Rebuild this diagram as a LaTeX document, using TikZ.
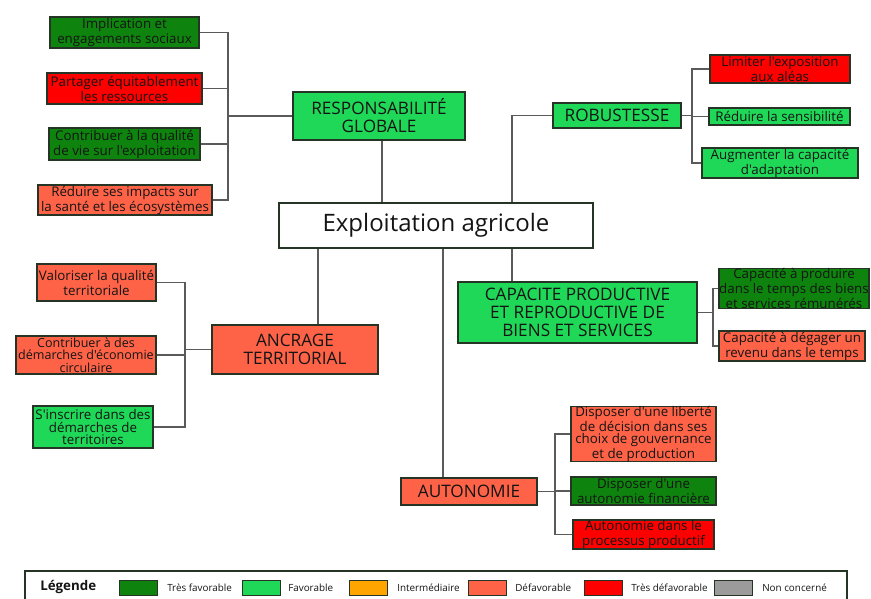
\documentclass[tikz,border=0pt]{standalone}
\usepackage{fontspec}
\setmainfont{Open Sans}[Ligatures=TeXOff]
\usepackage{tikz}
\usetikzlibrary{positioning}
\definecolor{tresfav}{RGB}{14,132,14}
\definecolor{fav}{RGB}{32,216,88}
\definecolor{interm}{RGB}{255,165,0}
\definecolor{defav}{RGB}{255,99,71}
\definecolor{tresdefav}{RGB}{255,0,0}
\definecolor{nonconc}{RGB}{155,155,155}
\definecolor{bordure}{RGB}{38,52,38}
\definecolor{trait}{RGB}{90,90,90}
\definecolor{texte}{RGB}{20,20,20}
\tikzset{dim/.style 2 args={minimum width=#1, minimum height=#2},
	lien/.style={draw=trait, line width=0.8pt}}

\begin{document}
\begin{tikzpicture}[x=0.75pt, y=-0.75pt,
    box/.style={draw=bordure, fill=#1, align=center, inner sep=0pt, text=texte, line width=0.8pt, font=\fontsize{10}{11.25}\selectfont},
    cat/.style={box=#1, line width=1.5pt, font=\fontsize{12.9}{13.5}\selectfont},
    swatch/.style={draw=bordure, fill=#1, dim={28.5pt}{11.25pt}, inner sep=0pt, line width=0.7pt},
    leg/.style={anchor=west, inner sep=0pt, text=texte, font=\fontsize{7.4}{8}\selectfont}
	]
	\useasboundingbox (0,0) rectangle (871,599);

		\node[box=white, line width=1.4pt, dim={235.5pt}{33.75pt}, font=\fontsize{18}{20}\selectfont] (expl) at (436,225.5) {Exploitation agricole};

		\node[cat=fav, dim={129pt}{36pt}] (rg) at (379,116) {RESPONSABILITÉ\\GLOBALE};
		\node[box=tresfav, dim={111.75pt}{23.25pt}] (impl) at (124.5,32.5) {Implication et\\engagements sociaux};
		\node[box=tresdefav, dim={116.25pt}{23.25pt}] (part) at (124.5,88.5) {Partager équitablement\\les ressources};
		\node[box=tresfav, dim={113.25pt}{24pt}] (contrib) at (124.5,144) {Contribuer à la qualité\\de vie sur l'exploitation};
		\node[box=defav, dim={130.5pt}{22.5pt}] (reduire) at (125,200) {Réduire ses impacts sur\\la santé et les écosystèmes};
		\coordinate (brg) at (228,116);
		\coordinate (jrg) at (382,0);

		\node[cat=fav, dim={96pt}{18.75pt}] (rob) at (617,115.5) {ROBUSTESSE};
		\node[box=tresdefav, dim={105pt}{21pt}] (lim) at (780,69) {Limiter l'exposition\\aux aléas};
		\node[box=fav, dim={105.75pt}{12.75pt}] (sens) at (779.5,116.5) {Réduire la sensibilité};
		\node[box=fav, dim={117pt}{22.5pt}] (augm) at (780,163) {Augmenter la capacité\\d'adaptation};
		\coordinate (brob) at (692,115.5);
		\coordinate (jcap) at (512,0);

		\node[cat=fav, dim={179.25pt}{45.75pt}] (cap) at (577.5,312.5) {CAPACITE PRODUCTIVE\\ET REPRODUCTIVE DE\\BIENS ET SERVICES};
		\node[box=tresfav, dim={112.5pt}{29.25pt}, font=\fontsize{10}{9.4}\selectfont] (prod) at (794,288.5) {Capacité à produire\\dans le temps des biens\\et services rémunérés};
		\node[box=defav, dim={109.5pt}{22.5pt}] (deg) at (792,346) {Capacité à dégager un\\revenu dans le temps};
		\coordinate (bcap) at (713,312.5);

		\node[cat=defav, dim={124.5pt}{36.75pt}] (anc) at (295,349.5) {ANCRAGE\\TERRITORIAL};
		\node[box=defav, dim={89.25pt}{27.75pt}] (valor) at (96.5,282.5) {Valoriser la qualité\\territoriale};
		\node[box=defav, dim={105pt}{28.5pt}, font=\fontsize{9.4}{9.4}\selectfont] (circ) at (86,355) {Contribuer à des\\démarches d'économie\\circulaire};
		\node[box=fav, dim={90pt}{31.5pt}, font=\fontsize{10}{9.3}\selectfont] (inscr) at (93,427) {S'inscrire dans des\\démarches de\\territoires};
		\coordinate (banc) at (185,349.5);
		\coordinate (janc) at (318,0);

		\node[cat=defav, dim={102pt}{20.25pt}] (auto) at (469,491.5) {AUTONOMIE};
		\node[box=defav, dim={108.75pt}{40.5pt}, font=\fontsize{10}{9.3}\selectfont] (lib) at (643.5,434) {Disposer d'une liberté\\de décision dans ses\\choix de gouvernance\\et de production};
		\node[box=tresfav, dim={108.75pt}{21pt}] (fin) at (643.5,491) {Disposer d'une\\autonomie financière};
		\node[box=tresdefav, dim={105.75pt}{21.75pt}] (proc) at (643.5,534.5) {Autonomie dans le\\processus productif};
		\coordinate (baut) at (555,491.5);
		\coordinate (jaut) at (443,0);

		\draw[lien] (impl.east) -| (brg);
		\draw[lien] (part.east) -| (brg);
		\draw[lien] (contrib.east) -| (brg);
		\draw[lien] (reduire.east) -| (brg);
		\draw[lien] (brg) -- (rg.west);
		\draw[lien] (rg.south -| jrg) -- (expl.north -| jrg);

		\draw[lien] (expl.north -| jcap) |- (rob.west);
		\draw[lien] (lim.west) -| (brob);
		\draw[lien] (sens.west) -| (brob);
		\draw[lien] (augm.west) -| (brob);
		\draw[lien] (rob.east) -- (brob);

		\draw[lien] (expl.south -| jcap) -- (cap.north -| jcap);
		\draw[lien] (prod.west) -| (bcap);
		\draw[lien] (deg.west) -| (bcap);
		\draw[lien] (cap.east) -- (bcap);

		\draw[lien] (expl.south -| janc) -- (anc.north -| janc);
		\draw[lien] (valor.east) -| (banc);
		\draw[lien] (circ.east) -| (banc);
		\draw[lien] (inscr.east) -| (banc);
		\draw[lien] (banc) -- (anc.west);

		\draw[lien] (expl.south -| jaut) -- (auto.north -| jaut);
		\draw[lien] (lib.west) -| (baut);
		\draw[lien] (fin.west) -| (baut);
		\draw[lien] (proc.west) -| (baut);
		\draw[lien] (auto.east) -- (baut);

		\draw[draw=bordure, line width=1pt] (25,600) |- (847,571) -- (847,600);
		\node[anchor=west, inner sep=0pt, text=texte, font=\fontsize{10}{12}\selectfont\bfseries] (titre) at (40,587) {Légende};
		\node[swatch=tresfav] (s1) at (138.5,587.5) {};
		\node[leg] (l1) at (167,587.5) {Très favorable};
		\node[swatch=fav] (s2) at (261,587.5) {};
		\node[leg] (l2) at (288,587.5) {Favorable};
		\node[swatch=interm] (s3) at (368.5,587.5) {};
		\node[leg] (l3) at (397,587.5) {Intermédiaire};
		\node[swatch=defav] (s4) at (487,587.5) {};
		\node[leg] (l4) at (515,587.5) {Défavorable};
		\node[swatch=tresdefav] (s5) at (603,587.5) {};
		\node[leg] (l5) at (631,587.5) {Très défavorable};
		\node[swatch=nonconc] (s6) at (733.5,587.5) {};
		\node[leg] (l6) at (762,587.5) {Non concerné};

	\end{tikzpicture}
\end{document}
